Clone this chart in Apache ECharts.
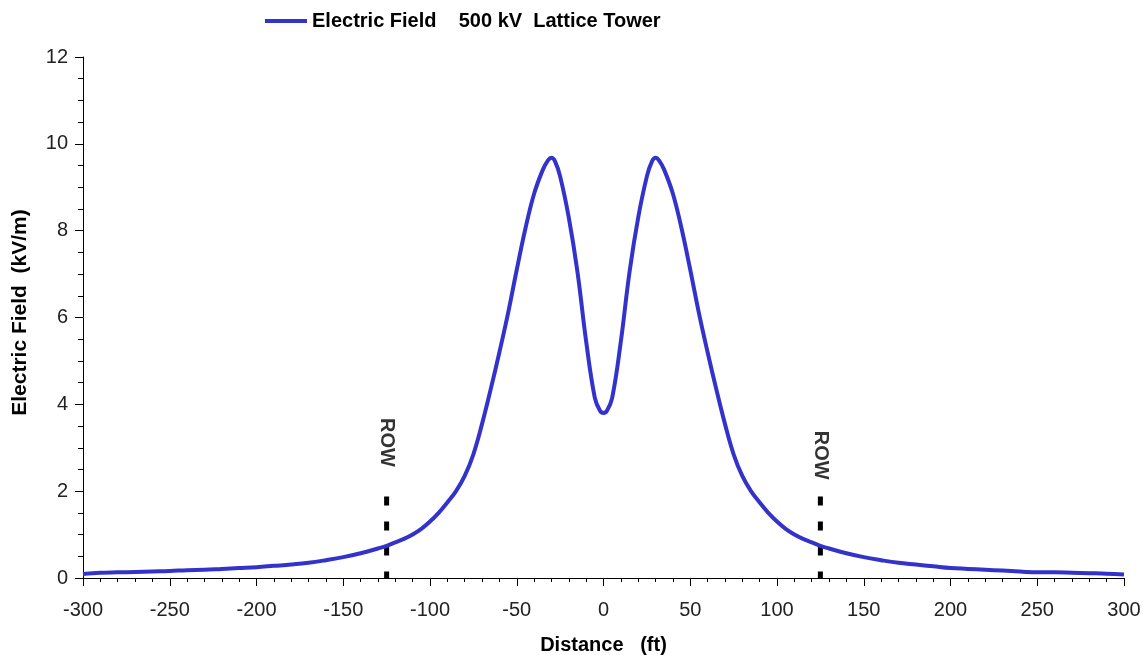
<!DOCTYPE html>
<html>
<head>
<meta charset="utf-8">
<script src="https://cdn.jsdelivr.net/npm/echarts@6/dist/echarts.min.js"></script>
<style>
html,body{margin:0;padding:0;background:#fff;}
#chart{width:1143px;height:655px;}
</style>
</head>
<body>
<div id="chart"></div>
<script>
// Distance (ft)
var distance = [-300,-290,-280,-270,-260,-250,-240,-230,-220,-210,-200,-190,-180,-170,-160,-150,-140,-130,-125,-120,-115,-110,-105,-100,-95,-90,-85,-80,-75,-70,-65,-60,-55,-50,-45,-40,-35,-32,-30,-28,-25,-20,-15,-10,-5,-2,0,
2,5,10,15,20,25,28,30,32,35,40,45,50,55,60,65,70,75,80,85,90,95,100,105,110,115,120,125,130,140,150,160,170,180,190,200,210,220,230,240,250,260,270,280,290,300];
// Electric field (kV/m)
var field = [0.09,0.12,0.13,0.14,0.15,0.16,0.18,0.19,0.21,0.23,0.25,0.28,0.31,0.35,0.41,0.48,0.57,0.68,0.74,0.82,0.9,1.0,1.13,1.3,1.5,1.74,2.0,2.35,2.85,3.55,4.35,5.2,6.1,7.1,8.05,8.85,9.4,9.62,9.68,9.6,9.25,8.3,7.05,5.45,4.15,3.85,3.8,
3.85,4.15,5.45,7.05,8.3,9.25,9.6,9.68,9.62,9.4,8.85,8.05,7.1,6.1,5.2,4.35,3.55,2.85,2.35,2.0,1.74,1.5,1.3,1.13,1.0,0.9,0.82,0.74,0.68,0.57,0.48,0.41,0.35,0.31,0.27,0.23,0.21,0.19,0.17,0.15,0.13,0.13,0.12,0.11,0.1,0.08];
// Right-of-way markers
var rowPositions = [-125, 125];
var rowMarkerTop = 1.88;
var rowLabelY = [3.12, 2.83];
var rowLabel = 'ROW';
var legendName = 'Electric Field    500 kV  Lattice Tower';

var FONT = 'Liberation Sans, Arial, sans-serif';
var seriesData = distance.map(function(d,i){return [d, field[i]];});

var rowSeries = rowPositions.map(function(p){
  return {
    type:'line', data:[[p,rowMarkerTop],[p,0]], symbol:'none', silent:true,
    lineStyle:{color:'#000', width:5, type:[9,16]}, z:3
  };
});
var rowText = {
  type:'scatter', symbolSize:0, silent:true,
  data: rowPositions.map(function(p,i){return [p,rowLabelY[i]];}),
  label:{show:true, formatter:rowLabel, position:'inside', rotate:-90,
    fontFamily:FONT, fontWeight:'bold', fontSize:20, color:'#000'}
};

var chart = echarts.init(document.getElementById('chart'));
chart.setOption({
  animation:false,
  backgroundColor:'#fff',
  legend:{
    data:[legendName], top:6, left:260, itemWidth:42, itemHeight:14, itemGap:6,
    icon:'path://M0,0 L10,0 L10,1 L0,1 Z',
    textStyle:{fontFamily:FONT, fontWeight:'bold', fontSize:20, color:'#000'}
  },
  grid:{left:83, right:19, top:57, bottom:77, containLabel:false, outerBoundsMode:'none'},
  xAxis:{
    type:'value', min:-300, max:300, interval:50,
    name:'Distance   (ft)', nameLocation:'middle', nameGap:57,
    nameTextStyle:{fontFamily:FONT, fontWeight:'bold', fontSize:20, color:'#000'},
    axisLine:{show:true, onZero:false, lineStyle:{color:'#000', width:1}},
    axisTick:{show:true, inside:false, length:8, lineStyle:{color:'#000'}},
    minorTick:{show:true, splitNumber:5, length:4, lineStyle:{color:'#000'}},
    splitLine:{show:false},
    axisLabel:{margin:22, fontFamily:FONT, fontSize:20, color:'#222'}
  },
  yAxis:{
    type:'value', min:0, max:12, interval:2,
    name:'Electric Field  (kV/m)', nameLocation:'middle', nameGap:52,
    nameTextStyle:{fontFamily:FONT, fontWeight:'bold', fontSize:21, color:'#000', padding:[0,0,0,10]},
    axisLine:{show:true, onZero:false, lineStyle:{color:'#000', width:1}},
    axisTick:{show:true, inside:false, length:8, lineStyle:{color:'#000'}},
    minorTick:{show:true, splitNumber:4, length:5, lineStyle:{color:'#000'}},
    splitLine:{show:false},
    axisLabel:{margin:15, fontFamily:FONT, fontSize:20, color:'#222'}
  },
  series:[{
    name:legendName, type:'line', data:seriesData, symbol:'none', smooth:0.4,
    lineStyle:{color:'#3333CC', width:4}, itemStyle:{color:'#3333CC'}, z:4
  }].concat(rowSeries).concat([rowText])
});
</script>
</body>
</html>
